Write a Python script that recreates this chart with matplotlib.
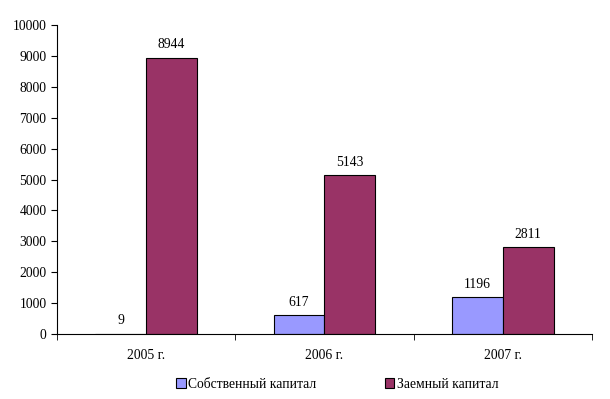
import numpy as np
import matplotlib.pyplot as plt
from matplotlib.patches import Patch

years = ['2005 г.', '2006 г.', '2007 г.']
own_capital = [9, 617, 1196]
borrowed_capital = [8944, 5143, 2811]
series_names = ['Собственный капитал', 'Заемный капитал']
colors = ['#9999FF', '#993366']

plt.rcParams['font.family'] = ['Liberation Serif', 'DejaVu Serif']
plt.rcParams['font.size'] = 9.8

fig = plt.figure(figsize=(6.1, 3.99), dpi=100)
ax = fig.add_axes([0.0934, 0.163, 0.877, 0.774])

x = np.arange(len(years))
w = 1 / 3.5
b1 = ax.bar(x - w / 2, own_capital, w, color=colors[0], edgecolor='black', linewidth=0.8)
b2 = ax.bar(x + w / 2, borrowed_capital, w, color=colors[1], edgecolor='black', linewidth=0.8)

# value labels above bars
for bars in (b1, b2):
    for rect in bars:
        h = rect.get_height()
        ax.annotate(f'{h:.0f}', (rect.get_x() + rect.get_width() / 2, h),
                    xytext=(0, 4.5), textcoords='offset points',
                    ha='center', va='bottom')

ax.set_ylim(0, 10000)
ax.set_yticks(range(0, 10001, 1000))
ax.set_xlim(-0.5, 2.5)
ax.set_xticks(x)
ax.set_xticklabels(years)
ax.tick_params(axis='x', length=0, pad=11)
ax.set_xticks([-0.5, 0.5, 1.5, 2.5], minor=True)
ax.tick_params(axis='x', which='minor', length=4, direction='out')
ax.tick_params(axis='y', length=4, direction='out')
for s in ['top', 'right']:
    ax.spines[s].set_visible(False)

handles = [Patch(facecolor=c, edgecolor='black', linewidth=0.8) for c in colors]
fig.legend(handles, series_names, loc='center', bbox_to_anchor=(0.553, 0.037),
           ncol=2, frameon=False, handlelength=0.7, handleheight=0.7,
           handletextpad=0.2, columnspacing=5)

fig.savefig('out.png', dpi=100)
